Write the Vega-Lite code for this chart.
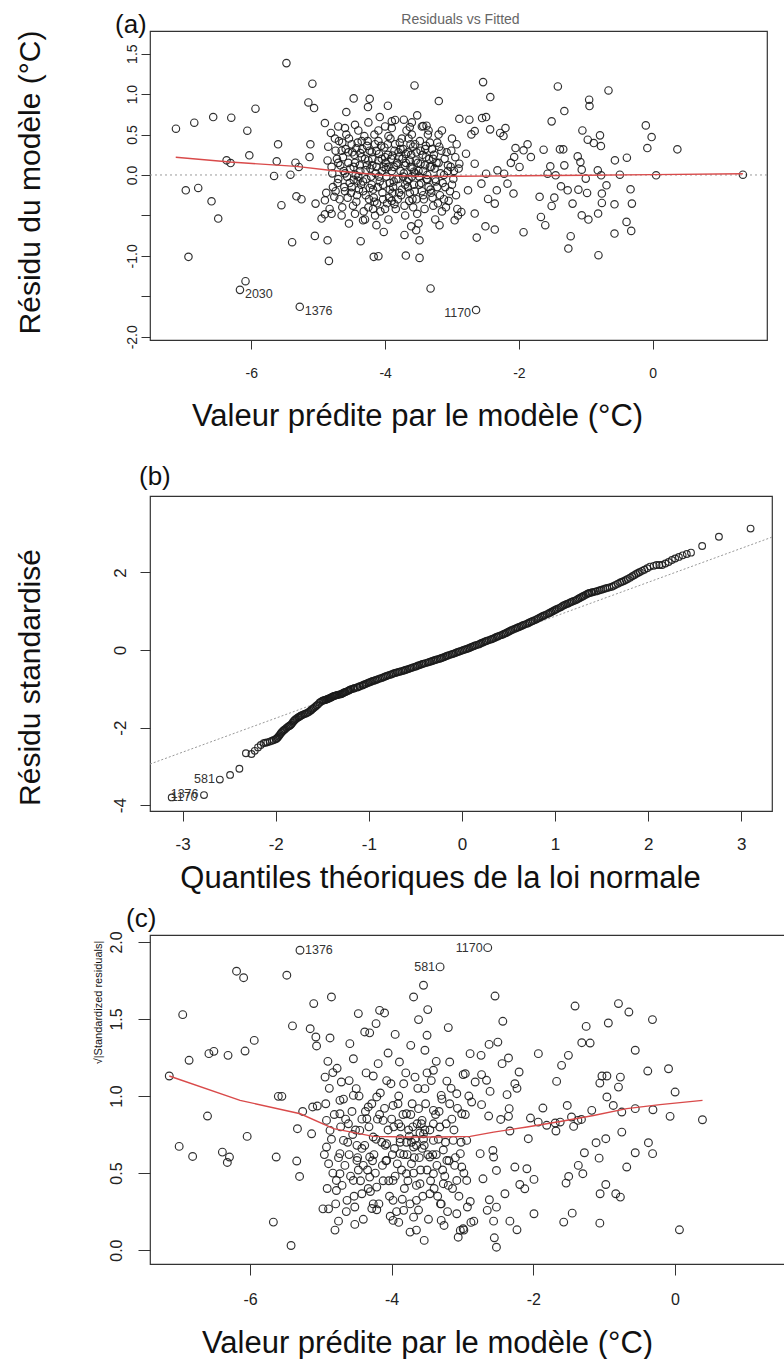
{
"$schema": "https://vega.github.io/schema/vega-lite/v6.json",
"padding": {"left": 14, "top": 11, "right": 0, "bottom": 0},
"spacing": 0,
"bounds": "flush",
"config": {
 "font": "Liberation Sans",
 "view": {"stroke": "#333", "strokeWidth": 1.2},
 "title": {"fontWeight": "normal", "color": "#111", "anchor": "start", "frame": "group", "baseline": "alphabetic", "fontSize": 26},
 "axis": {"domain": false, "grid": false, "tickColor": "#333", "tickWidth": 1, "labelColor": "#222", "titleColor": "#111", "titleFontWeight": "normal", "labelFont": "Liberation Sans", "titleFont": "Liberation Sans", "labelOverlap": false, "labelBound": false, "labelFlush": false}
},
"datasets": {
 "resid": [
{"fitted":-5.475,"residual":1.383},{"fitted":-5.087,"residual":1.128},{"fitted":-3.56,"residual":1.107},{"fitted":-3.197,"residual":0.914},{"fitted":-5.147,"residual":0.897},{"fitted":-5.062,"residual":0.827},{"fitted":-4.47,"residual":0.947},{"fitted":-4.23,"residual":0.942},{"fitted":-4.256,"residual":0.84},{"fitted":-3.958,"residual":0.856},{"fitted":-5.938,"residual":0.819},{"fitted":-7.127,"residual":0.572},{"fitted":-6.853,"residual":0.646},{"fitted":-6.57,"residual":0.716},{"fitted":-6.3,"residual":0.708},{"fitted":-6.06,"residual":0.547},{"fitted":-4.58,"residual":0.778},{"fitted":-4.9,"residual":0.642},{"fitted":-4.08,"residual":0.716},{"fitted":-3.9,"residual":0.663},{"fitted":-3.72,"residual":0.683},{"fitted":-3.52,"residual":0.737},{"fitted":-3.63,"residual":0.593},{"fitted":-3.43,"residual":0.605},{"fitted":-3.38,"residual":0.609},{"fitted":-5.6,"residual":0.379},{"fitted":-5.117,"residual":0.379},{"fitted":-6.03,"residual":0.243},{"fitted":-6.37,"residual":0.181},{"fitted":-6.31,"residual":0.148},{"fitted":-5.62,"residual":0.169},{"fitted":-5.34,"residual":0.152},{"fitted":-5.29,"residual":0.099},{"fitted":-5.13,"residual":0.222},{"fitted":-5.66,"residual":-0.012},{"fitted":-5.415,"residual":0.004},{"fitted":-6.98,"residual":-0.189},{"fitted":-6.794,"residual":-0.16},{"fitted":-6.595,"residual":-0.325},{"fitted":-6.495,"residual":-0.539},{"fitted":-5.55,"residual":-0.374},{"fitted":-5.326,"residual":-0.263},{"fitted":-5.25,"residual":-0.3},{"fitted":-5.04,"residual":-0.354},{"fitted":-4.9,"residual":-0.313},{"fitted":-4.95,"residual":-0.539},{"fitted":-4.9,"residual":-0.486},{"fitted":-5.39,"residual":-0.831},{"fitted":-5.05,"residual":-0.753},{"fitted":-4.86,"residual":-0.807},{"fitted":-4.84,"residual":-1.062},{"fitted":-6.94,"residual":-1.012},{"fitted":-6.087,"residual":-1.313},{"fitted":-6.17,"residual":-1.42},{"fitted":-5.276,"residual":-1.63},{"fitted":-3.32,"residual":-1.403},{"fitted":-4.365,"residual":-0.819},{"fitted":-4.17,"residual":-1.012},{"fitted":-4.1,"residual":-1.004},{"fitted":-3.69,"residual":-0.996},{"fitted":-3.485,"residual":-1.025},{"fitted":-3.71,"residual":-0.741},{"fitted":-3.485,"residual":-0.807},{"fitted":-4.02,"residual":-0.704},{"fitted":-4.54,"residual":-0.6},{"fitted":-4.33,"residual":-0.56},{"fitted":-4.13,"residual":-0.62},{"fitted":-3.61,"residual":-0.634},{"fitted":-3.535,"residual":-0.683},{"fitted":-3.186,"residual":-0.621},{"fitted":-2.96,"residual":-0.56},
{"fitted":-2.535,"residual":1.148},{"fitted":-2.427,"residual":0.963},{"fitted":-1.417,"residual":1.095},{"fitted":-0.66,"residual":1.045},{"fitted":-0.949,"residual":0.93},{"fitted":-0.944,"residual":0.852},{"fitted":-1.32,"residual":0.79},{"fitted":-1.51,"residual":0.663},{"fitted":-2.89,"residual":0.695},{"fitted":-2.74,"residual":0.683},{"fitted":-2.55,"residual":0.704},{"fitted":-2.49,"residual":0.716},{"fitted":-2.43,"residual":0.564},{"fitted":-2.2,"residual":0.58},{"fitted":-2.28,"residual":0.519},{"fitted":-2.23,"residual":0.481},{"fitted":-2.66,"residual":0.543},{"fitted":-2.71,"residual":0.502},{"fitted":-0.102,"residual":0.613},{"fitted":-0.015,"residual":0.469},{"fitted":-0.079,"residual":0.333},{"fitted":0.37,"residual":0.317},{"fitted":-1.05,"residual":0.551},{"fitted":-0.97,"residual":0.436},{"fitted":-0.88,"residual":0.395},{"fitted":-0.787,"residual":0.49},{"fitted":-0.773,"residual":0.358},{"fitted":-2.05,"residual":0.333},{"fitted":-1.87,"residual":0.379},{"fitted":-1.93,"residual":0.305},{"fitted":-1.82,"residual":0.222},{"fitted":-1.63,"residual":0.313},{"fitted":-1.386,"residual":0.317},{"fitted":-1.336,"residual":0.317},{"fitted":-1.12,"residual":0.23},{"fitted":-1.08,"residual":0.16},{"fitted":-0.564,"residual":0.181},{"fitted":-0.385,"residual":0.214},{"fitted":-1.32,"residual":0.119},{"fitted":-1.53,"residual":0.107},{"fitted":-1.57,"residual":0.016},{"fitted":-1.45,"residual":-0.004},{"fitted":-2.07,"residual":0.222},{"fitted":-1.99,"residual":0.099},{"fitted":-1.06,"residual":0.066},{"fitted":-0.82,"residual":0.058},{"fitted":-1.0,"residual":-0.045},{"fitted":-0.77,"residual":-0.004},{"fitted":-0.69,"residual":-0.128},{"fitted":-0.49,"residual":0.004},{"fitted":0.052,"residual":-0.004},{"fitted":1.35,"residual":0.004},{"fitted":-2.08,"residual":-0.23},{"fitted":-1.69,"residual":-0.27},{"fitted":-1.47,"residual":-0.28},{"fitted":-1.51,"residual":-0.383},{"fitted":-1.37,"residual":-0.14},{"fitted":-1.27,"residual":-0.189},{"fitted":-1.11,"residual":-0.181},{"fitted":-0.98,"residual":-0.222},{"fitted":-1.197,"residual":-0.354},{"fitted":-0.759,"residual":-0.23},{"fitted":-0.759,"residual":-0.346},{"fitted":-0.57,"residual":-0.362},{"fitted":-0.33,"residual":-0.177},{"fitted":-0.31,"residual":-0.354},{"fitted":-0.815,"residual":-0.477},{"fitted":-1.06,"residual":-0.498},{"fitted":-0.96,"residual":-0.551},{"fitted":-1.67,"residual":-0.519},{"fitted":-1.605,"residual":-0.621},{"fitted":-1.93,"residual":-0.708},{"fitted":-1.225,"residual":-0.757},{"fitted":-1.26,"residual":-0.909},{"fitted":-0.81,"residual":-0.992},{"fitted":-0.57,"residual":-0.724},{"fitted":-0.39,"residual":-0.58},{"fitted":-0.32,"residual":-0.691},{"fitted":-2.5,"residual":-0.634},{"fitted":-2.36,"residual":-0.675},{"fitted":-2.63,"residual":-0.774},{"fitted":-2.64,"residual":-1.67},{"fitted":-2.46,"residual":-0.296},{"fitted":-2.36,"residual":-0.354},{"fitted":-2.66,"residual":-0.477},{"fitted":-2.91,"residual":-0.5},{"fitted":-2.86,"residual":-0.457},{"fitted":-2.22,"residual":0.016},{"fitted":-2.32,"residual":0.058},{"fitted":-2.17,"residual":-0.107},{"fitted":-2.33,"residual":-0.189},{"fitted":-2.49,"residual":0.016},{"fitted":-2.56,"residual":-0.107},{"fitted":-2.76,"residual":-0.189},{"fitted":-2.79,"residual":0.263},{"fitted":-2.89,"residual":0.14},{"fitted":-2.66,"residual":0.14},{"fitted":-2.12,"residual":0.15},
{"fitted":-4.85,"residual":0.35},{"fitted":-4.8,"residual":0.1},{"fitted":-4.78,"residual":-0.15},{"fitted":-4.75,"residual":0.45},{"fitted":-4.72,"residual":0.2},{"fitted":-4.7,"residual":-0.05},{"fitted":-4.68,"residual":-0.3},{"fitted":-4.65,"residual":0.3},{"fitted":-4.62,"residual":0.05},{"fitted":-4.6,"residual":-0.2},{"fitted":-4.58,"residual":0.5},{"fitted":-4.55,"residual":0.15},{"fitted":-4.53,"residual":-0.1},{"fitted":-4.5,"residual":0.38},{"fitted":-4.48,"residual":-0.38},{"fitted":-4.46,"residual":0.25},{"fitted":-4.44,"residual":0.0},{"fitted":-4.42,"residual":-0.25},{"fitted":-4.4,"residual":0.55},{"fitted":-4.38,"residual":0.12},{"fitted":-4.36,"residual":-0.12},{"fitted":-4.34,"residual":0.32},{"fitted":-4.32,"residual":-0.45},{"fitted":-4.3,"residual":0.2},{"fitted":-4.28,"residual":-0.05},{"fitted":-4.26,"residual":0.42},{"fitted":-4.24,"residual":-0.3},{"fitted":-4.22,"residual":0.08},{"fitted":-4.2,"residual":0.28},{"fitted":-4.18,"residual":-0.18},{"fitted":-4.16,"residual":0.5},{"fitted":-4.14,"residual":0.02},{"fitted":-4.12,"residual":-0.35},{"fitted":-4.1,"residual":0.18},{"fitted":-4.08,"residual":-0.08},{"fitted":-4.06,"residual":0.36},{"fitted":-4.04,"residual":-0.22},{"fitted":-4.02,"residual":0.1},{"fitted":-4.0,"residual":0.6},{"fitted":-3.98,"residual":-0.02},{"fitted":-3.96,"residual":0.25},{"fitted":-3.94,"residual":-0.28},{"fitted":-3.92,"residual":0.45},{"fitted":-3.9,"residual":0.05},{"fitted":-3.88,"residual":-0.15},{"fitted":-3.86,"residual":0.3},{"fitted":-3.84,"residual":-0.42},{"fitted":-3.82,"residual":0.15},{"fitted":-3.8,"residual":-0.05},{"fitted":-3.78,"residual":0.4},{"fitted":-3.76,"residual":-0.25},{"fitted":-3.74,"residual":0.2},{"fitted":-3.72,"residual":0.02},{"fitted":-3.7,"residual":-0.12},{"fitted":-3.68,"residual":0.55},{"fitted":-3.66,"residual":0.28},{"fitted":-3.64,"residual":-0.32},{"fitted":-3.62,"residual":0.1},{"fitted":-3.6,"residual":-0.02},{"fitted":-3.58,"residual":0.35},{"fitted":-3.56,"residual":-0.2},{"fitted":-3.54,"residual":0.18},{"fitted":-3.52,"residual":-0.48},{"fitted":-3.5,"residual":0.05},{"fitted":-3.48,"residual":0.42},{"fitted":-3.46,"residual":-0.1},{"fitted":-3.44,"residual":0.25},{"fitted":-3.42,"residual":-0.3},{"fitted":-3.4,"residual":0.12},{"fitted":-3.38,"residual":-0.05},{"fitted":-3.36,"residual":0.5},{"fitted":-3.34,"residual":0.2},{"fitted":-3.32,"residual":-0.18},{"fitted":-3.3,"residual":0.32},{"fitted":-3.28,"residual":-0.38},{"fitted":-3.26,"residual":0.08},{"fitted":-3.24,"residual":-0.08},{"fitted":-3.22,"residual":0.4},{"fitted":-3.2,"residual":0.15},{"fitted":-3.18,"residual":-0.25},{"fitted":-3.15,"residual":0.55},{"fitted":-3.12,"residual":0.0},{"fitted":-3.1,"residual":-0.15},{"fitted":-3.08,"residual":0.28},{"fitted":-3.05,"residual":-0.32},{"fitted":-3.02,"residual":0.1},{"fitted":-3.0,"residual":0.45},{"fitted":-2.98,"residual":-0.05},{"fitted":-2.95,"residual":0.22},{"fitted":-2.92,"residual":-0.42},{"fitted":-2.9,"residual":0.08},{"fitted":-4.45,"residual":0.62},{"fitted":-3.95,"residual":-0.55},{"fitted":-3.6,"residual":0.65},{"fitted":-4.25,"residual":0.65},{"fitted":-3.25,"residual":-0.55},{"fitted":-4.7,"residual":0.6},{"fitted":-3.85,"residual":0.68},{"fitted":-4.15,"residual":-0.5},{"fitted":-3.45,"residual":0.6},{"fitted":-4.4,"residual":-0.02},{"fitted":-4.2,"residual":-0.12},{"fitted":-4.0,"residual":0.22},{"fitted":-3.8,"residual":0.28},{"fitted":-3.7,"residual":0.12},{"fitted":-3.55,"residual":0.02},{"fitted":-3.4,"residual":0.32},{"fitted":-3.9,"residual":-0.32},{"fitted":-4.1,"residual":0.42},{"fitted":-3.65,"residual":-0.05},
{"fitted":-4.88,"residual":-0.22},{"fitted":-4.86,"residual":0.18},{"fitted":-4.83,"residual":-0.42},{"fitted":-4.81,"residual":0.52},{"fitted":-4.79,"residual":0.02},{"fitted":-4.76,"residual":-0.27},{"fitted":-4.74,"residual":0.3},{"fitted":-4.71,"residual":-0.1},{"fitted":-4.69,"residual":0.42},{"fitted":-4.67,"residual":0.12},{"fitted":-4.64,"residual":-0.4},{"fitted":-4.63,"residual":0.22},{"fitted":-4.61,"residual":-0.15},{"fitted":-4.59,"residual":0.32},{"fitted":-4.57,"residual":-0.02},{"fitted":-4.56,"residual":-0.28},{"fitted":-4.54,"residual":0.45},{"fitted":-4.52,"residual":0.08},{"fitted":-4.51,"residual":-0.22},{"fitted":-4.49,"residual":0.28},{"fitted":-4.47,"residual":-0.06},{"fitted":-4.45,"residual":0.15},{"fitted":-4.43,"residual":-0.33},{"fitted":-4.41,"residual":0.4},{"fitted":-4.39,"residual":-0.18},{"fitted":-4.37,"residual":0.05},{"fitted":-4.35,"residual":0.22},{"fitted":-4.33,"residual":-0.08},{"fitted":-4.31,"residual":0.48},{"fitted":-4.29,"residual":-0.25},{"fitted":-4.27,"residual":0.12},{"fitted":-4.25,"residual":-0.4},{"fitted":-4.23,"residual":0.3},{"fitted":-4.21,"residual":-0.02},{"fitted":-4.19,"residual":0.2},{"fitted":-4.17,"residual":-0.28},{"fitted":-4.15,"residual":0.38},{"fitted":-4.13,"residual":0.1},{"fitted":-4.11,"residual":-0.15},{"fitted":-4.09,"residual":0.26},{"fitted":-4.07,"residual":-0.45},{"fitted":-4.05,"residual":0.05},{"fitted":-4.03,"residual":-0.12},{"fitted":-4.01,"residual":0.34},{"fitted":-3.99,"residual":0.15},{"fitted":-3.97,"residual":-0.35},{"fitted":-3.95,"residual":0.48},{"fitted":-3.93,"residual":-0.1},{"fitted":-3.91,"residual":0.2},{"fitted":-3.89,"residual":-0.22},{"fitted":-3.87,"residual":0.1},{"fitted":-3.85,"residual":0.38},{"fitted":-3.83,"residual":-0.05},{"fitted":-3.81,"residual":-0.3},{"fitted":-3.79,"residual":0.22},{"fitted":-3.77,"residual":0.05},{"fitted":-3.75,"residual":-0.18},{"fitted":-3.73,"residual":0.32},{"fitted":-3.71,"residual":-0.38},{"fitted":-3.69,"residual":0.15},{"fitted":-3.67,"residual":-0.08},{"fitted":-3.65,"residual":0.45},{"fitted":-3.63,"residual":-0.22},{"fitted":-3.61,"residual":0.25},{"fitted":-3.59,"residual":0.08},{"fitted":-3.57,"residual":-0.12},{"fitted":-3.55,"residual":0.38},{"fitted":-3.53,"residual":-0.3},{"fitted":-3.51,"residual":0.15},{"fitted":-3.49,"residual":-0.02},{"fitted":-3.47,"residual":0.3},{"fitted":-3.45,"residual":-0.2},{"fitted":-3.43,"residual":0.05},{"fitted":-3.41,"residual":-0.42},{"fitted":-3.39,"residual":0.22},{"fitted":-3.37,"residual":0.0},{"fitted":-3.35,"residual":-0.15},{"fitted":-3.33,"residual":0.4},{"fitted":-3.31,"residual":0.1},{"fitted":-3.29,"residual":-0.28},{"fitted":-3.27,"residual":0.25},{"fitted":-3.25,"residual":-0.05},{"fitted":-3.23,"residual":0.15},{"fitted":-3.21,"residual":-0.35},{"fitted":-3.19,"residual":0.35},{"fitted":-3.17,"residual":0.02},{"fitted":-3.14,"residual":-0.1},{"fitted":-3.11,"residual":0.2},{"fitted":-3.09,"residual":-0.4},{"fitted":-3.06,"residual":0.12},{"fitted":-3.03,"residual":-0.2},{"fitted":-3.01,"residual":0.3},{"fitted":-2.97,"residual":0.05},{"fitted":-2.94,"residual":-0.25},{"fitted":-2.93,"residual":0.38},{"fitted":-4.6,"residual":0.58},{"fitted":-4.3,"residual":-0.55},{"fitted":-3.9,"residual":0.58},{"fitted":-3.5,"residual":-0.6},{"fitted":-3.2,"residual":0.5},{"fitted":-4.8,"residual":-0.48},{"fitted":-4.1,"residual":0.55},{"fitted":-3.7,"residual":-0.5},{"fitted":-3.35,"residual":0.55},{"fitted":-4.45,"residual":-0.48},{"fitted":-4.0,"residual":-0.42},{"fitted":-3.6,"residual":0.5},{"fitted":-3.15,"residual":-0.45},{"fitted":-4.65,"residual":-0.5},
{"fitted":-4.47,"residual":0.1},{"fitted":-4.43,"residual":0.33},{"fitted":-4.41,"residual":-0.07},{"fitted":-4.37,"residual":0.27},{"fitted":-4.33,"residual":-0.2},{"fitted":-4.29,"residual":0.06},{"fitted":-4.27,"residual":0.36},{"fitted":-4.23,"residual":-0.16},{"fitted":-4.19,"residual":0.12},{"fitted":-4.16,"residual":-0.33},{"fitted":-4.13,"residual":0.3},{"fitted":-4.09,"residual":-0.02},{"fitted":-4.05,"residual":0.2},{"fitted":-4.03,"residual":-0.3},{"fitted":-3.99,"residual":0.08},{"fitted":-3.96,"residual":0.38},{"fitted":-3.93,"residual":-0.18},{"fitted":-3.89,"residual":0.24},{"fitted":-3.87,"residual":-0.08},{"fitted":-3.83,"residual":0.12},{"fitted":-3.79,"residual":-0.22},{"fitted":-3.77,"residual":0.32},{"fitted":-3.73,"residual":-0.02},{"fitted":-3.69,"residual":0.26},{"fitted":-3.66,"residual":-0.15},{"fitted":-3.63,"residual":0.18},{"fitted":-3.59,"residual":-0.3},{"fitted":-3.57,"residual":0.04},{"fitted":-3.53,"residual":0.28},{"fitted":-3.49,"residual":-0.12},{"fitted":-3.47,"residual":0.14},{"fitted":-3.43,"residual":-0.25},{"fitted":-3.39,"residual":0.36},{"fitted":-3.37,"residual":-0.06},{"fitted":-3.33,"residual":0.1},{"fitted":-3.31,"residual":-0.22},{"fitted":-4.5,"residual":-0.15},{"fitted":-4.55,"residual":0.28},{"fitted":-4.6,"residual":0.02},{"fitted":-4.64,"residual":0.4},{"fitted":-4.7,"residual":0.15},{"fitted":-4.74,"residual":-0.2},{"fitted":-3.28,"residual":0.2},{"fitted":-3.22,"residual":-0.15},{"fitted":-3.16,"residual":0.3},{"fitted":-3.12,"residual":-0.3},{"fitted":-3.06,"residual":0.05},{"fitted":-3.0,"residual":-0.12},{"fitted":-4.35,"residual":0.42},{"fitted":-3.75,"residual":0.45},{"fitted":-4.18,"residual":-0.42},{"fitted":-3.58,"residual":-0.4},{"fitted":-3.95,"residual":0.1},{"fitted":-4.25,"residual":0.18},{"fitted":-3.62,"residual":0.38},{"fitted":-3.86,"residual":-0.36}
 ],
 "zero": [{"level": 0}],
 "lowessA": [
{"fitted":-7.13,"smooth":0.22},{"fitted":-6.32,"smooth":0.16},{"fitted":-5.33,"smooth":0.107},{"fitted":-4.83,"smooth":0.058},{"fitted":-4.03,"smooth":-0.004},{"fitted":-3.4,"smooth":-0.018},{"fitted":-2.89,"smooth":-0.016},{"fitted":-2.0,"smooth":-0.01},{"fitted":-1.0,"smooth":-0.004},{"fitted":0.0,"smooth":0.004},{"fitted":1.35,"smooth":0.016}
 ],
 "labelsA_right": [{"fitted":-6.17,"residual":-1.42,"id":"2030"},{"fitted":-5.276,"residual":-1.63,"id":"1376"}],
 "labelsA_left": [{"fitted":-2.64,"residual":-1.67,"id":"1170"}],
 "qq": [
{"theoretical":-3.117,"standardized":-3.8},{"theoretical":-2.77,"standardized":-3.74},{"theoretical":-2.6,"standardized":-3.34},{"theoretical":-2.49,"standardized":-3.22},{"theoretical":-2.39,"standardized":-3.06},{"theoretical":-2.32,"standardized":-2.66},{"theoretical":-2.26,"standardized":-2.68},{"theoretical":-2.19,"standardized":-2.51},{"theoretical":-2.13,"standardized":-2.4},{"theoretical":-2.09,"standardized":-2.38},{"theoretical":-2.04,"standardized":-2.34},{"theoretical":-2.0,"standardized":-2.3},{"theoretical":-1.98,"standardized":-2.26},{"theoretical":-1.96,"standardized":-2.2},{"theoretical":-1.94,"standardized":-2.13},{"theoretical":-1.92,"standardized":-2.08},{"theoretical":-1.9,"standardized":-2.04},{"theoretical":-1.87,"standardized":-1.98},{"theoretical":-1.85,"standardized":-1.95},{"theoretical":-1.83,"standardized":-1.91},{"theoretical":-1.81,"standardized":-1.84},{"theoretical":-1.79,"standardized":-1.79},{"theoretical":-1.76,"standardized":-1.74},{"theoretical":-1.74,"standardized":-1.71},{"theoretical":-1.72,"standardized":-1.68},{"theoretical":-1.69,"standardized":-1.65},{"theoretical":-1.66,"standardized":-1.62},{"theoretical":-1.63,"standardized":-1.57},{"theoretical":-1.61,"standardized":-1.53},{"theoretical":-1.59,"standardized":-1.49},{"theoretical":-1.56,"standardized":-1.43},{"theoretical":-1.53,"standardized":-1.36},{"theoretical":-1.5,"standardized":-1.31},{"theoretical":-1.48,"standardized":-1.295},{"theoretical":-1.46,"standardized":-1.28},{"theoretical":-1.44,"standardized":-1.26},{"theoretical":-1.42,"standardized":-1.24},{"theoretical":-1.4,"standardized":-1.215},{"theoretical":-1.38,"standardized":-1.19},{"theoretical":-1.36,"standardized":-1.175},{"theoretical":-1.34,"standardized":-1.16},{"theoretical":-1.31,"standardized":-1.145},{"theoretical":-1.29,"standardized":-1.13},{"theoretical":-1.27,"standardized":-1.1},{"theoretical":-1.25,"standardized":-1.08},{"theoretical":-1.22,"standardized":-1.05},{"theoretical":-1.2,"standardized":-1.02},{"theoretical":-1.17,"standardized":-1.0},{"theoretical":-1.15,"standardized":-0.98},{"theoretical":-1.12,"standardized":-0.96},{"theoretical":-1.1,"standardized":-0.94},{"theoretical":-1.07,"standardized":-0.915},{"theoretical":-1.05,"standardized":-0.89},{"theoretical":-1.02,"standardized":-0.86},{"theoretical":-0.99,"standardized":-0.83},{"theoretical":-0.96,"standardized":-0.8},{"theoretical":-0.93,"standardized":-0.78},{"theoretical":-0.9,"standardized":-0.75},{"theoretical":-0.86,"standardized":-0.72},{"theoretical":-0.83,"standardized":-0.69},{"theoretical":-0.8,"standardized":-0.66},{"theoretical":-0.76,"standardized":-0.63},{"theoretical":-0.73,"standardized":-0.6},{"theoretical":-0.7,"standardized":-0.58},{"theoretical":-0.67,"standardized":-0.56},{"theoretical":-0.63,"standardized":-0.535},{"theoretical":-0.6,"standardized":-0.51},{"theoretical":-0.57,"standardized":-0.485},{"theoretical":-0.54,"standardized":-0.46},{"theoretical":-0.5,"standardized":-0.43},{"theoretical":-0.47,"standardized":-0.4},{"theoretical":-0.44,"standardized":-0.375},{"theoretical":-0.41,"standardized":-0.35},{"theoretical":-0.37,"standardized":-0.325},{"theoretical":-0.34,"standardized":-0.3},{"theoretical":-0.31,"standardized":-0.275},{"theoretical":-0.28,"standardized":-0.25},{"theoretical":-0.24,"standardized":-0.225},{"theoretical":-0.21,"standardized":-0.2},{"theoretical":-0.18,"standardized":-0.17},{"theoretical":-0.15,"standardized":-0.14},{"theoretical":-0.11,"standardized":-0.11},{"theoretical":-0.08,"standardized":-0.085},{"theoretical":-0.05,"standardized":-0.055},{"theoretical":-0.02,"standardized":-0.03},{"theoretical":0.015,"standardized":0.0},{"theoretical":0.05,"standardized":0.026},{"theoretical":0.08,"standardized":0.055},{"theoretical":0.11,"standardized":0.085},{"theoretical":0.14,"standardized":0.115},{"theoretical":0.18,"standardized":0.145},{"theoretical":0.21,"standardized":0.18},{"theoretical":0.24,"standardized":0.21},{"theoretical":0.27,"standardized":0.24},{"theoretical":0.31,"standardized":0.27},{"theoretical":0.34,"standardized":0.3},{"theoretical":0.37,"standardized":0.335},{"theoretical":0.4,"standardized":0.365},{"theoretical":0.44,"standardized":0.4},{"theoretical":0.47,"standardized":0.435},{"theoretical":0.5,"standardized":0.47},{"theoretical":0.53,"standardized":0.51},{"theoretical":0.57,"standardized":0.55},{"theoretical":0.6,"standardized":0.58},{"theoretical":0.63,"standardized":0.61},{"theoretical":0.66,"standardized":0.645},{"theoretical":0.7,"standardized":0.68},{"theoretical":0.73,"standardized":0.715},{"theoretical":0.76,"standardized":0.75},{"theoretical":0.8,"standardized":0.79},{"theoretical":0.83,"standardized":0.83},{"theoretical":0.86,"standardized":0.865},{"theoretical":0.89,"standardized":0.9},{"theoretical":0.93,"standardized":0.94},{"theoretical":0.96,"standardized":0.98},{"theoretical":0.99,"standardized":1.02},{"theoretical":1.02,"standardized":1.06},{"theoretical":1.06,"standardized":1.1},{"theoretical":1.09,"standardized":1.15},{"theoretical":1.12,"standardized":1.18},{"theoretical":1.15,"standardized":1.21},{"theoretical":1.18,"standardized":1.245},{"theoretical":1.22,"standardized":1.28},{"theoretical":1.25,"standardized":1.32},{"theoretical":1.28,"standardized":1.36},{"theoretical":1.31,"standardized":1.4},{"theoretical":1.35,"standardized":1.45},{"theoretical":1.37,"standardized":1.47},{"theoretical":1.4,"standardized":1.49},{"theoretical":1.44,"standardized":1.51},{"theoretical":1.48,"standardized":1.54},{"theoretical":1.52,"standardized":1.57},{"theoretical":1.56,"standardized":1.6},{"theoretical":1.61,"standardized":1.63},{"theoretical":1.65,"standardized":1.68},{"theoretical":1.7,"standardized":1.74},{"theoretical":1.74,"standardized":1.78},{"theoretical":1.78,"standardized":1.83},{"theoretical":1.83,"standardized":1.9},{"theoretical":1.87,"standardized":1.96},{"theoretical":1.91,"standardized":2.01},{"theoretical":1.96,"standardized":2.07},{"theoretical":2.02,"standardized":2.15},{"theoretical":2.09,"standardized":2.19},{"theoretical":2.15,"standardized":2.19},{"theoretical":2.22,"standardized":2.27},{"theoretical":2.29,"standardized":2.36},{"theoretical":2.37,"standardized":2.44},{"theoretical":2.46,"standardized":2.51},{"theoretical":2.58,"standardized":2.68},{"theoretical":2.76,"standardized":2.92},{"theoretical":3.1,"standardized":3.13},
{"theoretical":-1.035,"standardized":-0.875},{"theoretical":-1.005,"standardized":-0.845},{"theoretical":-0.975,"standardized":-0.815},{"theoretical":-0.945,"standardized":-0.79},{"theoretical":-0.915,"standardized":-0.765},{"theoretical":-0.88,"standardized":-0.735},{"theoretical":-0.845,"standardized":-0.705},{"theoretical":-0.815,"standardized":-0.675},{"theoretical":-0.78,"standardized":-0.645},{"theoretical":-0.745,"standardized":-0.615},{"theoretical":-0.715,"standardized":-0.59},{"theoretical":-0.685,"standardized":-0.57},{"theoretical":-0.65,"standardized":-0.548},{"theoretical":-0.615,"standardized":-0.522},{"theoretical":-0.585,"standardized":-0.498},{"theoretical":-0.555,"standardized":-0.472},{"theoretical":-0.52,"standardized":-0.445},{"theoretical":-0.485,"standardized":-0.415},{"theoretical":-0.455,"standardized":-0.388},{"theoretical":-0.425,"standardized":-0.362},{"theoretical":-0.39,"standardized":-0.338},{"theoretical":-0.355,"standardized":-0.312},{"theoretical":-0.325,"standardized":-0.288},{"theoretical":-0.295,"standardized":-0.262},{"theoretical":-0.26,"standardized":-0.238},{"theoretical":-0.225,"standardized":-0.212},{"theoretical":-0.195,"standardized":-0.185},{"theoretical":-0.165,"standardized":-0.155},{"theoretical":-0.13,"standardized":-0.125},{"theoretical":-0.095,"standardized":-0.098},{"theoretical":-0.065,"standardized":-0.07},{"theoretical":-0.035,"standardized":-0.042},{"theoretical":0.0,"standardized":-0.015},{"theoretical":0.033,"standardized":0.013},{"theoretical":0.065,"standardized":0.04},{"theoretical":0.095,"standardized":0.07},{"theoretical":0.125,"standardized":0.1},{"theoretical":0.16,"standardized":0.13},{"theoretical":0.195,"standardized":0.162},{"theoretical":0.225,"standardized":0.195},{"theoretical":0.255,"standardized":0.225},{"theoretical":0.29,"standardized":0.255},{"theoretical":0.325,"standardized":0.285},{"theoretical":0.355,"standardized":0.318},{"theoretical":0.385,"standardized":0.35},{"theoretical":0.42,"standardized":0.382},{"theoretical":0.455,"standardized":0.418},{"theoretical":0.485,"standardized":0.452},{"theoretical":0.515,"standardized":0.49},{"theoretical":0.55,"standardized":0.53},{"theoretical":0.585,"standardized":0.565},{"theoretical":0.615,"standardized":0.595},{"theoretical":0.645,"standardized":0.628},{"theoretical":0.68,"standardized":0.662},{"theoretical":0.715,"standardized":0.698},{"theoretical":0.745,"standardized":0.732},{"theoretical":0.78,"standardized":0.77},{"theoretical":0.815,"standardized":0.81},{"theoretical":0.845,"standardized":0.848},{"theoretical":0.875,"standardized":0.882},{"theoretical":0.91,"standardized":0.92},{"theoretical":0.945,"standardized":0.96},{"theoretical":0.975,"standardized":1.0},{"theoretical":1.005,"standardized":1.04},{"theoretical":1.04,"standardized":1.08},{"theoretical":1.075,"standardized":1.125},{"theoretical":1.105,"standardized":1.165},{"theoretical":1.135,"standardized":1.195},{"theoretical":1.165,"standardized":1.228},{"theoretical":1.2,"standardized":1.262},{"theoretical":1.235,"standardized":1.3},{"theoretical":1.265,"standardized":1.34},{"theoretical":1.295,"standardized":1.38},{"theoretical":1.33,"standardized":1.425},{"theoretical":1.36,"standardized":1.46},{"theoretical":1.39,"standardized":1.48},{"theoretical":1.42,"standardized":1.5},{"theoretical":1.46,"standardized":1.525},{"theoretical":1.5,"standardized":1.555},{"theoretical":1.54,"standardized":1.585},{"theoretical":1.585,"standardized":1.615},{"theoretical":1.63,"standardized":1.655},{"theoretical":1.675,"standardized":1.71},{"theoretical":1.72,"standardized":1.76},{"theoretical":1.76,"standardized":1.805},{"theoretical":1.805,"standardized":1.865},{"theoretical":1.85,"standardized":1.93},{"theoretical":1.89,"standardized":1.985},{"theoretical":1.935,"standardized":2.04},{"theoretical":1.99,"standardized":2.11},{"theoretical":2.06,"standardized":2.17},{"theoretical":2.12,"standardized":2.19},{"theoretical":2.185,"standardized":2.23},{"theoretical":2.255,"standardized":2.32},{"theoretical":2.33,"standardized":2.4},{"theoretical":2.415,"standardized":2.475},{"theoretical":-1.065,"standardized":-0.905},{"theoretical":-1.095,"standardized":-0.93},{"theoretical":-1.125,"standardized":-0.965},{"theoretical":-1.16,"standardized":-0.99},{"theoretical":-1.19,"standardized":-1.01},{"theoretical":-1.21,"standardized":-1.035},{"theoretical":-1.235,"standardized":-1.065},{"theoretical":-1.26,"standardized":-1.09},{"theoretical":-1.28,"standardized":-1.115},{"theoretical":-1.3,"standardized":-1.138},{"theoretical":-1.325,"standardized":-1.152},{"theoretical":-1.35,"standardized":-1.168},{"theoretical":-1.37,"standardized":-1.182},{"theoretical":-1.39,"standardized":-1.2},{"theoretical":-1.41,"standardized":-1.228},{"theoretical":-1.43,"standardized":-1.25},{"theoretical":-1.45,"standardized":-1.27},{"theoretical":-1.47,"standardized":-1.288},{"theoretical":-1.49,"standardized":-1.3},{"theoretical":-1.515,"standardized":-1.335},{"theoretical":-1.545,"standardized":-1.4},{"theoretical":-1.575,"standardized":-1.46},{"theoretical":-1.6,"standardized":-1.51},{"theoretical":-1.62,"standardized":-1.55},{"theoretical":-1.645,"standardized":-1.595},{"theoretical":-1.675,"standardized":-1.635},{"theoretical":-1.705,"standardized":-1.665},{"theoretical":-1.73,"standardized":-1.695},{"theoretical":-1.75,"standardized":-1.725},{"theoretical":-1.775,"standardized":-1.765},{"theoretical":-1.8,"standardized":-1.815},{"theoretical":-1.82,"standardized":-1.875},{"theoretical":-1.84,"standardized":-1.93},{"theoretical":-1.86,"standardized":-1.965},{"theoretical":-1.885,"standardized":-2.01},{"theoretical":-1.91,"standardized":-2.06},{"theoretical":-1.93,"standardized":-2.105},{"theoretical":-1.95,"standardized":-2.165},{"theoretical":-1.97,"standardized":-2.23},{"theoretical":-1.99,"standardized":-2.28},{"theoretical":-2.02,"standardized":-2.32},{"theoretical":-2.065,"standardized":-2.36},{"theoretical":-2.11,"standardized":-2.39},{"theoretical":-2.16,"standardized":-2.45},{"theoretical":-2.225,"standardized":-2.6}
 ],
 "qqline": [{"theoretical":-3.35,"standardized":-2.94,"theoretical_end":3.33,"standardized_end":2.91}],
 "labelsB_left": [{"theoretical":-2.6,"standardized":-3.34,"id":"581"}],
 "labelsB_over": [{"theoretical":-3.117,"standardized":-3.72,"id":"1376"},{"theoretical":-3.117,"standardized":-3.8,"id":"1170"}],
 "scaleloc": [
{"fitted":-5.294,"sqrt_abs_std":1.946},{"fitted":-3.316,"sqrt_abs_std":1.838},{"fitted":-6.19,"sqrt_abs_std":1.81},{"fitted":-6.09,"sqrt_abs_std":1.768},{"fitted":-5.48,"sqrt_abs_std":1.784},{"fitted":-3.55,"sqrt_abs_std":1.719},{"fitted":-4.85,"sqrt_abs_std":1.643},{"fitted":-5.1,"sqrt_abs_std":1.6},{"fitted":-3.69,"sqrt_abs_std":1.643},{"fitted":-3.49,"sqrt_abs_std":1.561},{"fitted":-6.95,"sqrt_abs_std":1.528},{"fitted":-4.47,"sqrt_abs_std":1.535},{"fitted":-4.17,"sqrt_abs_std":1.556},{"fitted":-4.1,"sqrt_abs_std":1.539},{"fitted":-3.62,"sqrt_abs_std":1.496},{"fitted":-5.4,"sqrt_abs_std":1.455},{"fitted":-5.15,"sqrt_abs_std":1.437},{"fitted":-5.07,"sqrt_abs_std":1.383},{"fitted":-5.06,"sqrt_abs_std":1.325},{"fitted":-4.87,"sqrt_abs_std":1.377},{"fitted":-4.59,"sqrt_abs_std":1.34},{"fitted":-4.38,"sqrt_abs_std":1.416},{"fitted":-4.31,"sqrt_abs_std":1.41},{"fitted":-4.22,"sqrt_abs_std":1.47},{"fitted":-3.95,"sqrt_abs_std":1.4},{"fitted":-3.5,"sqrt_abs_std":1.394},{"fitted":-3.2,"sqrt_abs_std":1.444},{"fitted":-5.94,"sqrt_abs_std":1.361},{"fitted":-6.07,"sqrt_abs_std":1.292},{"fitted":-6.31,"sqrt_abs_std":1.264},{"fitted":-6.51,"sqrt_abs_std":1.29},{"fitted":-6.58,"sqrt_abs_std":1.275},{"fitted":-6.86,"sqrt_abs_std":1.232},{"fitted":-7.14,"sqrt_abs_std":1.13},{"fitted":-5.6,"sqrt_abs_std":0.998},{"fitted":-5.55,"sqrt_abs_std":0.998},{"fitted":-5.256,"sqrt_abs_std":0.9},{"fitted":-5.115,"sqrt_abs_std":0.929},{"fitted":-5.05,"sqrt_abs_std":0.935},{"fitted":-6.6,"sqrt_abs_std":0.87},{"fitted":-6.04,"sqrt_abs_std":0.738},{"fitted":-7.0,"sqrt_abs_std":0.673},{"fitted":-6.81,"sqrt_abs_std":0.608},{"fitted":-6.39,"sqrt_abs_std":0.636},{"fitted":-6.29,"sqrt_abs_std":0.604},{"fitted":-6.32,"sqrt_abs_std":0.569},{"fitted":-5.63,"sqrt_abs_std":0.604},{"fitted":-5.33,"sqrt_abs_std":0.788},{"fitted":-5.13,"sqrt_abs_std":0.755},{"fitted":-5.34,"sqrt_abs_std":0.578},{"fitted":-5.3,"sqrt_abs_std":0.478},{"fitted":-5.67,"sqrt_abs_std":0.182},{"fitted":-5.42,"sqrt_abs_std":0.03},{"fitted":-4.97,"sqrt_abs_std":0.268},{"fitted":-4.89,"sqrt_abs_std":0.268},{"fitted":-4.75,"sqrt_abs_std":0.188},{"fitted":-4.52,"sqrt_abs_std":0.167},{"fitted":-3.74,"sqrt_abs_std":0.117},{"fitted":-3.54,"sqrt_abs_std":0.063},
{"fitted":-4.9,"sqrt_abs_std":1.225},{"fitted":-4.83,"sqrt_abs_std":1.152},{"fitted":-4.54,"sqrt_abs_std":1.242},{"fitted":-4.19,"sqrt_abs_std":1.21},{"fitted":-4.05,"sqrt_abs_std":1.279},{"fitted":-3.89,"sqrt_abs_std":1.221},{"fitted":-3.73,"sqrt_abs_std":1.329},{"fitted":-3.53,"sqrt_abs_std":1.297},{"fitted":-3.37,"sqrt_abs_std":1.225},{"fitted":-3.18,"sqrt_abs_std":1.221},{"fitted":-3.41,"sqrt_abs_std":1.167},{"fitted":-3.22,"sqrt_abs_std":1.097},{"fitted":-2.99,"sqrt_abs_std":1.139},{"fitted":-4.94,"sqrt_abs_std":1.123},{"fitted":-4.71,"sqrt_abs_std":1.091},{"fitted":-4.5,"sqrt_abs_std":1.048},{"fitted":-4.26,"sqrt_abs_std":1.13},{"fitted":-4.07,"sqrt_abs_std":1.1},{"fitted":-3.83,"sqrt_abs_std":1.08},{"fitted":-3.67,"sqrt_abs_std":1.123},{"fitted":-3.53,"sqrt_abs_std":1.048},{"fitted":-3.3,"sqrt_abs_std":1.004},{"fitted":-3.08,"sqrt_abs_std":1.015},{"fitted":-4.73,"sqrt_abs_std":0.972},{"fitted":-4.54,"sqrt_abs_std":1.004},{"fitted":-4.33,"sqrt_abs_std":0.929},{"fitted":-4.21,"sqrt_abs_std":0.994},{"fitted":-3.98,"sqrt_abs_std":0.939},{"fitted":-3.79,"sqrt_abs_std":0.885},{"fitted":-3.62,"sqrt_abs_std":0.918},{"fitted":-3.41,"sqrt_abs_std":0.907},{"fitted":-3.18,"sqrt_abs_std":0.95},{"fitted":-3.01,"sqrt_abs_std":0.885},{"fitted":-4.92,"sqrt_abs_std":0.842},{"fitted":-4.73,"sqrt_abs_std":0.885},{"fitted":-4.61,"sqrt_abs_std":0.82},{"fitted":-4.35,"sqrt_abs_std":0.853},{"fitted":-4.12,"sqrt_abs_std":0.842},{"fitted":-3.9,"sqrt_abs_std":0.82},{"fitted":-3.57,"sqrt_abs_std":0.842},{"fitted":-3.32,"sqrt_abs_std":0.799},{"fitted":-4.87,"sqrt_abs_std":0.777},{"fitted":-4.68,"sqrt_abs_std":0.712},{"fitted":-4.49,"sqrt_abs_std":0.68},{"fitted":-4.26,"sqrt_abs_std":0.734},{"fitted":-4.07,"sqrt_abs_std":0.69},{"fitted":-3.88,"sqrt_abs_std":0.723},{"fitted":-3.69,"sqrt_abs_std":0.669},{"fitted":-3.55,"sqrt_abs_std":0.755},{"fitted":-3.41,"sqrt_abs_std":0.712},{"fitted":-3.13,"sqrt_abs_std":0.712},{"fitted":-4.92,"sqrt_abs_std":0.669},{"fitted":-4.73,"sqrt_abs_std":0.626},{"fitted":-4.49,"sqrt_abs_std":0.582},{"fitted":-4.31,"sqrt_abs_std":0.604},{"fitted":-4.07,"sqrt_abs_std":0.582},{"fitted":-3.88,"sqrt_abs_std":0.626},{"fitted":-3.72,"sqrt_abs_std":0.561},{"fitted":-3.46,"sqrt_abs_std":0.604},{"fitted":-3.22,"sqrt_abs_std":0.582},{"fitted":-3.03,"sqrt_abs_std":0.626},{"fitted":-4.89,"sqrt_abs_std":0.561},{"fitted":-4.73,"sqrt_abs_std":0.496},{"fitted":-4.54,"sqrt_abs_std":0.452},{"fitted":-4.31,"sqrt_abs_std":0.474},{"fitted":-4.21,"sqrt_abs_std":0.409},{"fitted":-3.98,"sqrt_abs_std":0.452},{"fitted":-3.79,"sqrt_abs_std":0.496},{"fitted":-3.6,"sqrt_abs_std":0.431},{"fitted":-3.41,"sqrt_abs_std":0.496},{"fitted":-3.27,"sqrt_abs_std":0.431},{"fitted":-3.08,"sqrt_abs_std":0.452},{"fitted":-4.78,"sqrt_abs_std":0.387},{"fitted":-4.63,"sqrt_abs_std":0.323},{"fitted":-4.42,"sqrt_abs_std":0.366},{"fitted":-4.26,"sqrt_abs_std":0.3},{"fitted":-3.98,"sqrt_abs_std":0.323},{"fitted":-3.83,"sqrt_abs_std":0.258},{"fitted":-3.65,"sqrt_abs_std":0.323},{"fitted":-3.46,"sqrt_abs_std":0.366},{"fitted":-3.3,"sqrt_abs_std":0.3},{"fitted":-3.08,"sqrt_abs_std":0.236},{"fitted":-4.21,"sqrt_abs_std":0.262},{"fitted":-3.98,"sqrt_abs_std":0.193},{"fitted":-3.69,"sqrt_abs_std":0.214},{"fitted":-3.3,"sqrt_abs_std":0.193},{"fitted":-3.03,"sqrt_abs_std":0.128},{"fitted":-4.78,"sqrt_abs_std":0.452},{"fitted":-4.45,"sqrt_abs_std":0.777},{"fitted":-4.8,"sqrt_abs_std":0.13},{"fitted":-4.28,"sqrt_abs_std":0.27},{"fitted":-3.9,"sqrt_abs_std":0.18},{"fitted":-3.65,"sqrt_abs_std":0.13},{"fitted":-3.26,"sqrt_abs_std":0.16},{"fitted":-3.06,"sqrt_abs_std":0.084},{"fitted":-2.98,"sqrt_abs_std":0.13},{"fitted":-2.88,"sqrt_abs_std":0.18},
{"fitted":-4.95,"sqrt_abs_std":0.62},{"fitted":-4.93,"sqrt_abs_std":0.95},{"fitted":-4.91,"sqrt_abs_std":0.4},{"fitted":-4.88,"sqrt_abs_std":1.05},{"fitted":-4.85,"sqrt_abs_std":0.72},{"fitted":-4.83,"sqrt_abs_std":0.5},{"fitted":-4.81,"sqrt_abs_std":0.88},{"fitted":-4.79,"sqrt_abs_std":0.3},{"fitted":-4.77,"sqrt_abs_std":1.18},{"fitted":-4.75,"sqrt_abs_std":0.6},{"fitted":-4.72,"sqrt_abs_std":0.8},{"fitted":-4.7,"sqrt_abs_std":0.42},{"fitted":-4.68,"sqrt_abs_std":0.98},{"fitted":-4.66,"sqrt_abs_std":0.55},{"fitted":-4.64,"sqrt_abs_std":0.25},{"fitted":-4.62,"sqrt_abs_std":0.7},{"fitted":-4.6,"sqrt_abs_std":1.1},{"fitted":-4.58,"sqrt_abs_std":0.48},{"fitted":-4.56,"sqrt_abs_std":0.9},{"fitted":-4.53,"sqrt_abs_std":0.35},{"fitted":-4.51,"sqrt_abs_std":0.78},{"fitted":-4.48,"sqrt_abs_std":0.6},{"fitted":-4.46,"sqrt_abs_std":1.0},{"fitted":-4.44,"sqrt_abs_std":0.45},{"fitted":-4.42,"sqrt_abs_std":0.85},{"fitted":-4.4,"sqrt_abs_std":0.2},{"fitted":-4.38,"sqrt_abs_std":0.68},{"fitted":-4.36,"sqrt_abs_std":1.15},{"fitted":-4.34,"sqrt_abs_std":0.52},{"fitted":-4.32,"sqrt_abs_std":0.8},{"fitted":-4.3,"sqrt_abs_std":0.38},{"fitted":-4.28,"sqrt_abs_std":0.95},{"fitted":-4.25,"sqrt_abs_std":0.62},{"fitted":-4.23,"sqrt_abs_std":0.5},{"fitted":-4.2,"sqrt_abs_std":0.85},{"fitted":-4.18,"sqrt_abs_std":0.3},{"fitted":-4.16,"sqrt_abs_std":1.02},{"fitted":-4.14,"sqrt_abs_std":0.7},{"fitted":-4.12,"sqrt_abs_std":0.45},{"fitted":-4.1,"sqrt_abs_std":0.92},{"fitted":-4.08,"sqrt_abs_std":0.58},{"fitted":-4.05,"sqrt_abs_std":0.78},{"fitted":-4.03,"sqrt_abs_std":0.35},{"fitted":-4.01,"sqrt_abs_std":1.08},{"fitted":-3.99,"sqrt_abs_std":0.62},{"fitted":-3.97,"sqrt_abs_std":0.8},{"fitted":-3.95,"sqrt_abs_std":0.48},{"fitted":-3.93,"sqrt_abs_std":0.25},{"fitted":-3.91,"sqrt_abs_std":0.95},{"fitted":-3.88,"sqrt_abs_std":0.7},{"fitted":-3.86,"sqrt_abs_std":0.52},{"fitted":-3.84,"sqrt_abs_std":0.88},{"fitted":-3.82,"sqrt_abs_std":0.4},{"fitted":-3.8,"sqrt_abs_std":1.15},{"fitted":-3.78,"sqrt_abs_std":0.62},{"fitted":-3.76,"sqrt_abs_std":0.78},{"fitted":-3.74,"sqrt_abs_std":0.3},{"fitted":-3.71,"sqrt_abs_std":0.95},{"fitted":-3.69,"sqrt_abs_std":0.5},{"fitted":-3.67,"sqrt_abs_std":0.72},{"fitted":-3.65,"sqrt_abs_std":0.42},{"fitted":-3.63,"sqrt_abs_std":1.05},{"fitted":-3.61,"sqrt_abs_std":0.6},{"fitted":-3.58,"sqrt_abs_std":0.82},{"fitted":-3.56,"sqrt_abs_std":0.35},{"fitted":-3.54,"sqrt_abs_std":0.68},{"fitted":-3.52,"sqrt_abs_std":0.95},{"fitted":-3.5,"sqrt_abs_std":0.52},{"fitted":-3.48,"sqrt_abs_std":0.2},{"fitted":-3.46,"sqrt_abs_std":0.78},{"fitted":-3.44,"sqrt_abs_std":1.1},{"fitted":-3.42,"sqrt_abs_std":0.62},{"fitted":-3.4,"sqrt_abs_std":0.4},{"fitted":-3.38,"sqrt_abs_std":0.88},{"fitted":-3.36,"sqrt_abs_std":0.55},{"fitted":-3.34,"sqrt_abs_std":0.72},{"fitted":-3.31,"sqrt_abs_std":0.3},{"fitted":-3.29,"sqrt_abs_std":0.98},{"fitted":-3.27,"sqrt_abs_std":0.65},{"fitted":-3.25,"sqrt_abs_std":0.48},{"fitted":-3.23,"sqrt_abs_std":0.82},{"fitted":-3.21,"sqrt_abs_std":0.25},{"fitted":-3.19,"sqrt_abs_std":0.58},{"fitted":-3.16,"sqrt_abs_std":1.05},{"fitted":-3.14,"sqrt_abs_std":0.4},{"fitted":-3.12,"sqrt_abs_std":0.78},{"fitted":-3.1,"sqrt_abs_std":0.6},{"fitted":-3.07,"sqrt_abs_std":0.92},{"fitted":-3.05,"sqrt_abs_std":0.35},{"fitted":-3.02,"sqrt_abs_std":0.7},{"fitted":-2.98,"sqrt_abs_std":0.5},{"fitted":-2.96,"sqrt_abs_std":0.88},{"fitted":-2.93,"sqrt_abs_std":0.28},{"fitted":-2.91,"sqrt_abs_std":1.0},{"fitted":-3.75,"sqrt_abs_std":0.74},{"fitted":-3.6,"sqrt_abs_std":0.76},{"fitted":-3.7,"sqrt_abs_std":0.8},{"fitted":-3.55,"sqrt_abs_std":0.72},{"fitted":-3.65,"sqrt_abs_std":0.68},{"fitted":-3.72,"sqrt_abs_std":0.7},
{"fitted":-4.6,"sqrt_abs_std":0.62},{"fitted":-4.55,"sqrt_abs_std":0.75},{"fitted":-4.47,"sqrt_abs_std":0.52},{"fitted":-4.42,"sqrt_abs_std":0.66},{"fitted":-4.37,"sqrt_abs_std":0.9},{"fitted":-4.33,"sqrt_abs_std":0.4},{"fitted":-4.27,"sqrt_abs_std":0.58},{"fitted":-4.22,"sqrt_abs_std":0.72},{"fitted":-4.17,"sqrt_abs_std":0.88},{"fitted":-4.13,"sqrt_abs_std":0.55},{"fitted":-4.09,"sqrt_abs_std":0.68},{"fitted":-4.04,"sqrt_abs_std":0.45},{"fitted":-4.0,"sqrt_abs_std":0.85},{"fitted":-3.96,"sqrt_abs_std":0.66},{"fitted":-3.92,"sqrt_abs_std":0.56},{"fitted":-3.87,"sqrt_abs_std":0.8},{"fitted":-3.83,"sqrt_abs_std":0.62},{"fitted":-3.79,"sqrt_abs_std":0.7},{"fitted":-3.77,"sqrt_abs_std":0.45},{"fitted":-3.73,"sqrt_abs_std":0.88},{"fitted":-3.68,"sqrt_abs_std":0.6},{"fitted":-3.64,"sqrt_abs_std":0.82},{"fitted":-3.59,"sqrt_abs_std":0.52},{"fitted":-3.57,"sqrt_abs_std":0.66},{"fitted":-3.53,"sqrt_abs_std":0.78},{"fitted":-3.49,"sqrt_abs_std":0.62},{"fitted":-3.45,"sqrt_abs_std":0.45},{"fitted":-3.41,"sqrt_abs_std":0.82},{"fitted":-3.37,"sqrt_abs_std":0.62},{"fitted":-3.33,"sqrt_abs_std":0.9},{"fitted":-3.28,"sqrt_abs_std":0.52},{"fitted":-3.24,"sqrt_abs_std":0.7},{"fitted":-3.2,"sqrt_abs_std":0.42},{"fitted":-3.15,"sqrt_abs_std":0.85},{"fitted":-3.11,"sqrt_abs_std":0.55},{"fitted":-4.65,"sqrt_abs_std":0.85},{"fitted":-4.52,"sqrt_abs_std":0.28},{"fitted":-4.02,"sqrt_abs_std":0.22},{"fitted":-3.85,"sqrt_abs_std":0.33},{"fitted":-3.35,"sqrt_abs_std":0.35},{"fitted":-3.62,"sqrt_abs_std":0.26},{"fitted":-4.4,"sqrt_abs_std":0.55},{"fitted":-3.9,"sqrt_abs_std":1.0},{"fitted":-3.5,"sqrt_abs_std":1.15},
{"fitted":-2.643,"sqrt_abs_std":1.963},{"fitted":-2.54,"sqrt_abs_std":1.649},{"fitted":-1.41,"sqrt_abs_std":1.584},{"fitted":-0.797,"sqrt_abs_std":1.6},{"fitted":-0.65,"sqrt_abs_std":1.545},{"fitted":-0.317,"sqrt_abs_std":1.496},{"fitted":-0.94,"sqrt_abs_std":1.474},{"fitted":-2.43,"sqrt_abs_std":1.485},{"fitted":-1.253,"sqrt_abs_std":1.452},{"fitted":-1.315,"sqrt_abs_std":1.346},{"fitted":-1.197,"sqrt_abs_std":1.344},{"fitted":-2.624,"sqrt_abs_std":1.335},{"fitted":-2.5,"sqrt_abs_std":1.35},{"fitted":-0.56,"sqrt_abs_std":1.297},{"fitted":-1.928,"sqrt_abs_std":1.275},{"fitted":-1.504,"sqrt_abs_std":1.264},{"fitted":-2.892,"sqrt_abs_std":1.275},{"fitted":-2.737,"sqrt_abs_std":1.264},{"fitted":-2.44,"sqrt_abs_std":1.21},{"fitted":-2.35,"sqrt_abs_std":1.247},{"fitted":-1.6,"sqrt_abs_std":1.199},{"fitted":-0.383,"sqrt_abs_std":1.162},{"fitted":-0.09,"sqrt_abs_std":1.177},{"fitted":-2.2,"sqrt_abs_std":1.156},{"fitted":-1.03,"sqrt_abs_std":1.13},{"fitted":-0.96,"sqrt_abs_std":1.13},{"fitted":-0.77,"sqrt_abs_std":1.123},{"fitted":-1.67,"sqrt_abs_std":1.095},{"fitted":-1.06,"sqrt_abs_std":1.084},{"fitted":-0.797,"sqrt_abs_std":1.058},{"fitted":-2.96,"sqrt_abs_std":1.145},{"fitted":-2.73,"sqrt_abs_std":1.139},{"fitted":-2.66,"sqrt_abs_std":1.102},{"fitted":-2.82,"sqrt_abs_std":1.091},{"fitted":-2.26,"sqrt_abs_std":1.08},{"fitted":-2.23,"sqrt_abs_std":1.05},{"fitted":-2.61,"sqrt_abs_std":1.03},{"fitted":-2.37,"sqrt_abs_std":1.009},{"fitted":0.003,"sqrt_abs_std":1.026},{"fitted":-0.96,"sqrt_abs_std":0.994},{"fitted":-1.864,"sqrt_abs_std":0.922},{"fitted":-1.52,"sqrt_abs_std":0.939},{"fitted":-0.87,"sqrt_abs_std":0.939},{"fitted":-0.75,"sqrt_abs_std":0.896},{"fitted":-0.56,"sqrt_abs_std":0.918},{"fitted":-0.31,"sqrt_abs_std":0.911},{"fitted":-1.174,"sqrt_abs_std":0.907},{"fitted":-2.34,"sqrt_abs_std":0.918},{"fitted":-2.73,"sqrt_abs_std":0.944},{"fitted":-2.87,"sqrt_abs_std":0.961},{"fitted":-0.068,"sqrt_abs_std":0.868},{"fitted":0.389,"sqrt_abs_std":0.846},{"fitted":-2.04,"sqrt_abs_std":0.857},{"fitted":-1.93,"sqrt_abs_std":0.831},{"fitted":-1.81,"sqrt_abs_std":0.81},{"fitted":-1.69,"sqrt_abs_std":0.825},{"fitted":-1.62,"sqrt_abs_std":0.831},{"fitted":-1.46,"sqrt_abs_std":0.864},{"fitted":-1.43,"sqrt_abs_std":0.803},{"fitted":-1.37,"sqrt_abs_std":0.842},{"fitted":-1.32,"sqrt_abs_std":0.848},{"fitted":-1.68,"sqrt_abs_std":0.773},{"fitted":-0.75,"sqrt_abs_std":0.766},{"fitted":-2.33,"sqrt_abs_std":0.773},{"fitted":-2.46,"sqrt_abs_std":0.848},{"fitted":-2.35,"sqrt_abs_std":0.868},{"fitted":-2.63,"sqrt_abs_std":0.87},{"fitted":-2.07,"sqrt_abs_std":0.723},{"fitted":-1.113,"sqrt_abs_std":0.697},{"fitted":-0.976,"sqrt_abs_std":0.723},{"fitted":-0.374,"sqrt_abs_std":0.697},{"fitted":-0.56,"sqrt_abs_std":0.632},{"fitted":-0.315,"sqrt_abs_std":0.626},{"fitted":-1.278,"sqrt_abs_std":0.632},{"fitted":-1.07,"sqrt_abs_std":0.597},{"fitted":-0.68,"sqrt_abs_std":0.539},{"fitted":-1.364,"sqrt_abs_std":0.55},{"fitted":-1.3,"sqrt_abs_std":0.496},{"fitted":-1.5,"sqrt_abs_std":0.478},{"fitted":-1.537,"sqrt_abs_std":0.435},{"fitted":-0.976,"sqrt_abs_std":0.426},{"fitted":-1.056,"sqrt_abs_std":0.366},{"fitted":-0.835,"sqrt_abs_std":0.366},{"fitted":-0.77,"sqrt_abs_std":0.344},{"fitted":-2.26,"sqrt_abs_std":0.539},{"fitted":-2.09,"sqrt_abs_std":0.528},{"fitted":-1.99,"sqrt_abs_std":0.459},{"fitted":-2.19,"sqrt_abs_std":0.426},{"fitted":-2.12,"sqrt_abs_std":0.398},{"fitted":-2.4,"sqrt_abs_std":0.366},{"fitted":-2.57,"sqrt_abs_std":0.647},{"fitted":-2.56,"sqrt_abs_std":0.604},{"fitted":-2.52,"sqrt_abs_std":0.517},{"fitted":-2.71,"sqrt_abs_std":0.463},{"fitted":-2.89,"sqrt_abs_std":0.316},{"fitted":-2.62,"sqrt_abs_std":0.327},{"fitted":-2.52,"sqrt_abs_std":0.279},{"fitted":-2.65,"sqrt_abs_std":0.258},{"fitted":-1.99,"sqrt_abs_std":0.236},{"fitted":-1.57,"sqrt_abs_std":0.182},{"fitted":-1.45,"sqrt_abs_std":0.24},{"fitted":-1.06,"sqrt_abs_std":0.175},{"fitted":-2.33,"sqrt_abs_std":0.188},{"fitted":-2.23,"sqrt_abs_std":0.132},{"fitted":-2.56,"sqrt_abs_std":0.188},{"fitted":-2.84,"sqrt_abs_std":0.188},{"fitted":-2.55,"sqrt_abs_std":0.08},{"fitted":-2.52,"sqrt_abs_std":0.019},{"fitted":-2.99,"sqrt_abs_std":0.139},{"fitted":0.064,"sqrt_abs_std":0.132},{"fitted":-3.01,"sqrt_abs_std":0.539},{"fitted":-2.94,"sqrt_abs_std":0.712},{"fitted":-2.75,"sqrt_abs_std":0.626},{"fitted":-2.94,"sqrt_abs_std":0.452}
 ],
 "lowessC": [
{"fitted":-7.14,"smooth":1.13},{"fitted":-6.14,"smooth":0.972},{"fitted":-5.29,"smooth":0.885},{"fitted":-4.82,"smooth":0.788},{"fitted":-4.26,"smooth":0.738},{"fitted":-3.79,"smooth":0.734},{"fitted":-3.32,"smooth":0.734},{"fitted":-2.89,"smooth":0.738},{"fitted":-2.56,"smooth":0.766},{"fitted":-2.09,"smooth":0.799},{"fitted":-1.62,"smooth":0.835},{"fitted":-1.15,"smooth":0.874},{"fitted":-0.68,"smooth":0.918},{"fitted":-0.21,"smooth":0.944},{"fitted":0.39,"smooth":0.972}
 ],
 "labelsC_right": [{"fitted":-5.294,"sqrt_abs_std":1.946,"id":"1376"}],
 "labelsC_left": [{"fitted":-3.316,"sqrt_abs_std":1.838,"id":"581"},{"fitted":-2.643,"sqrt_abs_std":1.963,"id":"1170"}]
},
"vconcat": [
 {
  "width": 617, "height": 309,
  "title": {"text": "(a)", "dx": -35, "offset": -26},
  "resolve": {"scale": {"x": "independent", "y": "independent"}, "axis": {"x": "independent", "y": "independent"}},
  "layer": [
   {
    "encoding": {
     "x": {"field": "fitted", "type": "quantitative", "scale": {"domain": [-7.515, 1.71], "nice": false, "zero": false},
      "axis": {"orient": "bottom", "values": [-6, -4, -2, 0], "labelExpr": "datum.value + ''", "tickSize": 9, "labelPadding": 17, "labelFontSize": 14,
       "title": "Valeur prédite par le modèle (°C)", "titleFontSize": 31, "titleX": 267, "titleY": 85, "titleAlign": "center", "titleBaseline": "alphabetic"}},
     "y": {"field": "residual", "type": "quantitative", "scale": {"domain": [-2.04, 1.78], "nice": false, "zero": false},
      "axis": {"orient": "left", "values": [-2, -1.5, -1, -0.5, 0, 0.5, 1, 1.5], "labelExpr": "datum.value == -1.5 || datum.value == -0.5 ? '' : replace(format(datum.value, '.1f'), '\u2212', '-')",
       "labelAngle": -90, "labelAlign": "center", "labelBaseline": "bottom", "tickSize": 9, "labelPadding": 2, "labelFontSize": 14,
       "title": "Résidu du modèle (°C)", "titleFontSize": 30, "titleAngle": -90, "titleX": -111, "titleY": 151, "titleAlign": "center", "titleBaseline": "alphabetic"}}
    },
    "layer": [
     {"data": {"name": "zero"}, "mark": {"type": "rule", "color": "#999", "strokeDash": [2, 3], "strokeWidth": 1}, "encoding": {"x": null, "y": {"field": "level", "type": "quantitative"}}},
     {"data": {"name": "resid"}, "mark": {"type": "point", "shape": "circle", "filled": false, "stroke": "#1a1a1a", "strokeWidth": 1.15, "size": 55, "opacity": 0.9}},
     {"data": {"name": "labelsA_right"}, "mark": {"type": "text", "align": "left", "baseline": "middle", "dx": 5, "dy": 4, "fontSize": 12.5, "color": "#333"}, "encoding": {"text": {"field": "id"}}},
     {"data": {"name": "labelsA_left"}, "mark": {"type": "text", "align": "right", "baseline": "middle", "dx": -5, "dy": 3, "fontSize": 12.5, "color": "#333"}, "encoding": {"text": {"field": "id"}}}
    ]
   },
   {
    "data": {"name": "lowessA"},
    "mark": {"type": "line", "color": "#d94a4a", "strokeWidth": 1.4},
    "encoding": {
     "x": {"field": "fitted", "type": "quantitative", "scale": {"domain": [-7.515, 1.71], "nice": false, "zero": false},
      "axis": {"orient": "top", "ticks": false, "labels": false, "title": "Residuals vs Fitted", "titleFontSize": 14, "titleColor": "#666", "titleX": 310, "titleY": -8, "titleAlign": "center", "titleBaseline": "alphabetic"}},
     "y": {"field": "smooth", "type": "quantitative", "scale": {"domain": [-2.04, 1.78], "nice": false, "zero": false}, "axis": null}
    }
   }
  ]
 },
 {"width": 10, "height": 156, "data": {"values": [{"spacer": 1}]}, "mark": {"type": "point", "opacity": 0}, "view": {"stroke": null}},
 {
  "width": 622, "height": 315,
  "title": {"text": "(b)", "dx": -11, "offset": 6},
  "encoding": {
   "x": {"field": "theoretical", "type": "quantitative", "scale": {"domain": [-3.35, 3.33], "nice": false, "zero": false},
    "axis": {"values": [-3, -2, -1, 0, 1, 2, 3], "labelExpr": "datum.value + ''", "tickSize": 10, "labelPadding": 15, "labelFontSize": 17,
     "title": "Quantiles théoriques de la loi normale", "titleFontSize": 31, "titleX": 290, "titleY": 76, "titleAlign": "center", "titleBaseline": "alphabetic"}},
   "y": {"field": "standardized", "type": "quantitative", "scale": {"domain": [-4.15, 3.97], "nice": false, "zero": false},
    "axis": {"values": [-4, -2, 0, 2], "labelExpr": "datum.value + ''", "labelAngle": -90, "labelAlign": "center", "labelBaseline": "bottom", "tickSize": 10, "labelPadding": 11, "labelFontSize": 17,
     "title": "Résidu standardisé", "titleFontSize": 30, "titleAngle": -90, "titleX": -111, "titleY": 181, "titleAlign": "center", "titleBaseline": "alphabetic"}}
  },
  "layer": [
   {"data": {"name": "qqline"}, "mark": {"type": "rule", "color": "#999", "strokeDash": [2, 2], "strokeWidth": 1}, "encoding": {"x2": {"field": "theoretical_end"}, "y2": {"field": "standardized_end"}}},
   {"data": {"name": "qq"}, "mark": {"type": "point", "shape": "circle", "filled": false, "stroke": "#1a1a1a", "strokeWidth": 1.15, "size": 45, "opacity": 0.9}},
   {"data": {"name": "labelsB_left"}, "mark": {"type": "text", "align": "right", "baseline": "middle", "dx": -5, "dy": -1, "fontSize": 12.5, "color": "#333"}, "encoding": {"text": {"field": "id"}}},
   {"data": {"name": "labelsB_over"}, "mark": {"type": "text", "align": "left", "baseline": "middle", "dx": -1, "fontSize": 12.5, "color": "#333"}, "encoding": {"text": {"field": "id"}}}
  ]
 },
 {"width": 10, "height": 124, "data": {"values": [{"spacer": 1}]}, "mark": {"type": "point", "opacity": 0}, "view": {"stroke": null}},
 {
  "width": 646, "height": 329,
  "title": {"text": "(c)", "dx": -24, "offset": -1},
  "encoding": {
   "x": {"field": "fitted", "type": "quantitative", "scale": {"domain": [-7.412, 1.71], "nice": false, "zero": false},
    "axis": {"values": [-6, -4, -2, 0], "labelExpr": "datum.value + ''", "tickSize": 11, "labelPadding": 16, "labelFontSize": 16,
     "title": "Valeur prédite par le modèle (°C)", "titleFontSize": 31, "titleX": 277, "titleY": 88, "titleAlign": "center", "titleBaseline": "alphabetic"}},
   "y": {"field": "sqrt_abs_std", "type": "quantitative", "scale": {"domain": [-0.09, 2.045], "nice": false, "zero": false},
    "axis": {"values": [0, 0.5, 1, 1.5, 2], "labelExpr": "format(datum.value, '.1f')", "labelAngle": -90, "labelAlign": "center", "labelBaseline": "bottom", "tickSize": 12, "labelPadding": 14, "labelFontSize": 16,
     "title": "√|Standardized residuals|", "titleFontSize": 11, "titleAngle": -90, "titleX": -49, "titleY": 67, "titleAlign": "center", "titleBaseline": "alphabetic"}}
  },
  "layer": [
   {"data": {"name": "scaleloc"}, "mark": {"type": "point", "shape": "circle", "filled": false, "stroke": "#1a1a1a", "strokeWidth": 1.15, "size": 60, "opacity": 0.9}},
   {"data": {"name": "lowessC"}, "mark": {"type": "line", "color": "#d94a4a", "strokeWidth": 1.4}, "encoding": {"y": {"field": "smooth", "type": "quantitative"}}},
   {"data": {"name": "labelsC_right"}, "mark": {"type": "text", "align": "left", "baseline": "middle", "dx": 5, "fontSize": 12.5, "color": "#333"}, "encoding": {"text": {"field": "id"}}},
   {"data": {"name": "labelsC_left"}, "mark": {"type": "text", "align": "right", "baseline": "middle", "dx": -5, "fontSize": 12.5, "color": "#333"}, "encoding": {"text": {"field": "id"}}}
  ]
 }
]
}
